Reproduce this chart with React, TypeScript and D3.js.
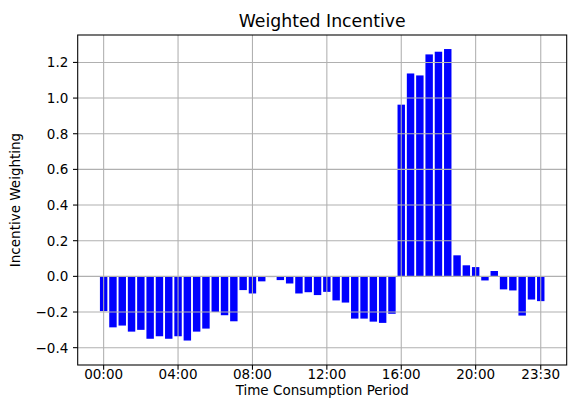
import React from "react";
import * as d3 from "d3";

const periods: string[] = Array.from({ length: 48 }, (_, i) =>
  `${String(Math.floor(i / 2)).padStart(2, "0")}:${i % 2 ? "30" : "00"}`
);

const weights: number[] = [
  -0.195, -0.286, -0.276, -0.31, -0.3, -0.35, -0.336, -0.35,
  -0.336, -0.36, -0.31, -0.293, -0.2, -0.218, -0.252, -0.077,
  -0.096, -0.028, -0.004, -0.021, -0.04, -0.096, -0.089, -0.105,
  -0.087, -0.135, -0.147, -0.237, -0.237, -0.254, -0.261, -0.21,
  0.963, 1.138, 1.127, 1.245, 1.26, 1.275, 0.118, 0.062,
  0.052, -0.023, 0.03, -0.073, -0.079, -0.22, -0.13, -0.139,
];

const xTickIdx: number[] = [0, 8, 16, 24, 32, 40, 47];
const yTicks: number[] = [-0.4, -0.2, 0, 0.2, 0.4, 0.6, 0.8, 1.0, 1.2];

const W = 568, H = 401;
const L = 77.7, R = 566.7, T = 35, B = 365;

export default function App() {
  const x = d3.scaleLinear().domain([-2.79, 49.79]).range([L, R]);
  const y = d3.scaleLinear().domain([-0.4972, 1.3538]).range([B, T]);
  const bw = x(0.8) - x(0);
  const font = "DejaVu Sans, sans-serif";
  const fmt = (v: number) => (v < 0 ? "\u2212" : "") + Math.abs(v).toFixed(1);
  return (
    <svg width={W} height={H} style={{ position: "absolute", left: 0, top: 0, background: "#fff" }}
      fontFamily={font}>
      <rect x={0} y={0} width={W} height={H} fill="#fff" />
      {weights.map((v, i) => (
        <rect key={i} x={x(i) - bw / 2} y={y(Math.max(0, v))} width={bw}
          height={Math.abs(y(v) - y(0))} fill="#0000ff" />
      ))}
      {xTickIdx.map((i) => (
        <line key={"gx" + i} x1={x(i)} x2={x(i)} y1={T} y2={B} stroke="#b0b0b0" strokeWidth={1.07} />
      ))}
      {yTicks.map((v) => (
        <line key={"gy" + v} x1={L} x2={R} y1={y(v)} y2={y(v)} stroke="#b0b0b0" strokeWidth={1.07} />
      ))}
      <rect x={L} y={T} width={R - L} height={B - T} fill="none" stroke="#000" strokeWidth={1.07} />
      {xTickIdx.map((i) => (
        <g key={"tx" + i}>
          <line x1={x(i)} x2={x(i)} y1={B} y2={B + 4.7} stroke="#000" strokeWidth={1.07} />
          <text x={x(i)} y={B + 13.8} fontSize={13.5} textAnchor="middle" fill="#000">{periods[i]}</text>
        </g>
      ))}
      {yTicks.map((v) => (
        <g key={"ty" + v}>
          <line x1={L - 4.7} x2={L} y1={y(v)} y2={y(v)} stroke="#000" strokeWidth={1.07} />
          <text x={L - 9.4} y={y(v)} dy="0.36em" fontSize={13.5} textAnchor="end" fill="#000">{fmt(v)}</text>
        </g>
      ))}
      <text x={(L + R) / 2} y={395} fontSize={13.5} textAnchor="middle" fill="#000">Time Consumption Period</text>
      <text transform={`translate(20,${(T + B) / 2}) rotate(-90)`} fontSize={13.5} textAnchor="middle" fill="#000">Incentive Weighting</text>
      <text x={(L + R) / 2} y={26.5} fontSize={17.3} textAnchor="middle" fill="#000">Weighted Incentive</text>
    </svg>
  );
}
